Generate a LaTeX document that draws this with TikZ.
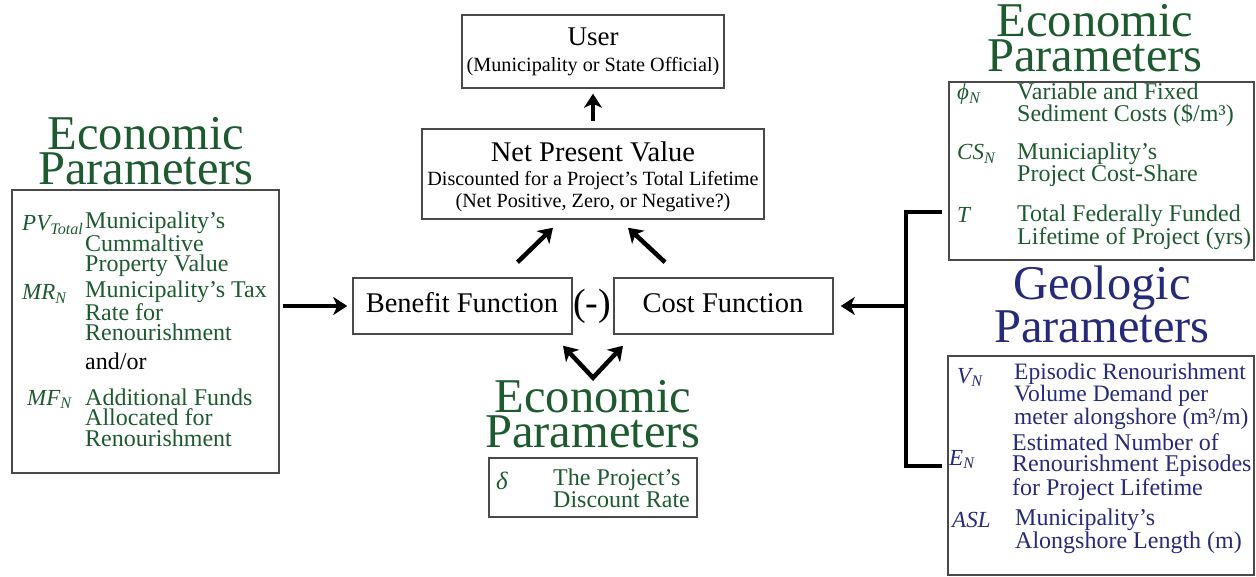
\documentclass[tikz,border=0pt]{standalone}
\usepackage{fontspec}
\setmainfont{Liberation Serif}
\usetikzlibrary{arrows.meta,calc}
\definecolor{egreen}{HTML}{1E5A30}
\definecolor{gblue}{HTML}{262A78}
\definecolor{boxgray}{HTML}{4A4A4A}
\begin{document}
\begin{tikzpicture}[x=1pt,y=-1pt,
  box/.style={draw=boxgray, line width=1.5pt, inner sep=0pt},
  title/.style={anchor=base, align=center, inner sep=0pt, font=\fontsize{48.5}{35}\selectfont},
  ent/.style={anchor=base west, align=left, inner sep=0pt, font=\fontsize{24}{20.5}\selectfont},
  sym/.style={anchor=base west, inner sep=0pt, font=\fontsize{23}{21}\selectfont\itshape},
  big/.style={anchor=base, inner sep=0pt, font=\fontsize{28.5}{30}\selectfont},
  small/.style={anchor=base, inner sep=0pt, font=\fontsize{20.2}{24}\selectfont},
  arr/.style={line width=4.5pt, -{Stealth[length=14pt,width=18pt,inset=4pt]}},
  darr/.style={line width=4.5pt, line join=miter, {Stealth[length=14pt,width=18pt,inset=4pt]}-{Stealth[length=14pt,width=18pt,inset=4pt]}},
  brk/.style={line width=4pt, line join=miter}
]
\useasboundingbox (0,0) rectangle (1256,577);

% ---- central column ----
\node[box, minimum width=262pt, minimum height=73pt] (user) at (593,51.5) {};
\node[big, font=\fontsize{27}{30}\selectfont] (usert) at (593,46) {User};
\node[small] (users) at (593,72) {(Municipality or State Official)};

\node[box, minimum width=342pt, minimum height=90pt] (npv) at (593,174) {};
\node[big] (npvt) at (593,162) {Net Present Value};
\node[small] (npv1) at (593,186) {Discounted for a Project’s Total Lifetime};
\node[small] (npv2) at (593,208) {(Net Positive, Zero, or Negative?)};

\node[box, minimum width=219pt, minimum height=56pt] (ben) at (462.5,306) {};
\node[big] (bent) at (462,313) {Benefit Function};
\node[box, minimum width=219pt, minimum height=56pt] (cost) at (723.5,306) {};
\node[big] (costt) at (723,313) {Cost Function};
\node[anchor=base, inner sep=0pt, font=\fontsize{38}{40}\selectfont] (minus) at (592,316) {(-)};

\node[title, text=egreen] (midtitle) at (593,447) {Economic\\Parameters};
\node[box, minimum width=208pt, minimum height=59pt] (dbox) at (593,487.5) {};
\node[sym, text=egreen, font=\fontsize{25}{21}\selectfont\itshape] (delta) at (496,489) {δ};
\node[ent, text=egreen, font=\fontsize{24}{22}\selectfont] (deltat) at (553,507) {The Project’s\\Discount Rate};

% ---- left column ----
\node[title, text=egreen] (ltitle) at (146,185) {Economic\\Parameters};
\node[box, minimum width=267pt, minimum height=283pt] (lbox) at (145.5,331.5) {};
\node[sym, text=egreen] (pv) at (22,231) {PV\textsubscript{Total}};
\node[ent, text=egreen] (pvt) at (85,272) {Municipality’s\\Cummaltive\\Property Value};
\node[sym, text=egreen] (mr) at (22,300) {MR\textsubscript{N}};
\node[ent, text=egreen] (mrt) at (85,341) {Municipality’s Tax\\Rate for\\Renourishment};
\node[ent] (andor) at (85,370) {and/or};
\node[sym, text=egreen] (mf) at (27,405) {MF\textsubscript{N}};
\node[ent, text=egreen] (mft) at (85,446) {Additional Funds\\Allocated for\\Renourishment};

% ---- right column ----
\node[title, text=egreen] (rtitle) at (1095,72) {Economic\\Parameters};
\node[box, minimum width=305pt, minimum height=178pt] (ebox) at (1101.5,171) {};
\node[sym, text=egreen] (phi) at (957,100) {ϕ\textsubscript{N}};
\node[ent, text=egreen, font=\fontsize{24}{22}\selectfont] (phit) at (1017,122) {Variable and Fixed\\Sediment Costs (\$/m³)};
\node[sym, text=egreen] (cs) at (957,160) {CS\textsubscript{N}};
\node[ent, text=egreen, font=\fontsize{24}{22}\selectfont] (cst) at (1017,182) {Municiaplity’s\\Project Cost-Share};
\node[sym, text=egreen] (tt) at (957,223) {T};
\node[ent, text=egreen, font=\fontsize{24}{22}\selectfont] (ttt) at (1017,245) {Total Federally Funded\\Lifetime of Project (yrs)};

\node[title, text=gblue, font=\fontsize{48.5}{41}\selectfont] (gtitle) at (1102,343) {Geologic\\Parameters};
\node[box, minimum width=306pt, minimum height=219pt] (gbox) at (1101,465.5) {};
\node[sym, text=gblue] (vn) at (957,383) {V\textsubscript{N}};
\node[ent, text=gblue, font=\fontsize{23.5}{20.5}\selectfont] (vnt) at (1014,424) {Episodic Renourishment\\Volume Demand per\\meter alongshore (m³/m)};
\node[sym, text=gblue] (en) at (949,465) {E\textsubscript{N}};
\node[ent, text=gblue, font=\fontsize{24}{21.5}\selectfont] (ent) at (1012,495) {Estimated Number of\\Renourishment Episodes\\for Project Lifetime};
\node[sym, text=gblue] (asl) at (952,527) {ASL};
\node[ent, text=gblue, font=\fontsize{24}{21}\selectfont] (aslt) at (1015,548) {Municipality’s\\Alongshore Length (m)};

% ---- connectors ----
\draw[arr] ([shift={(0,-7)}]npv.north) -- ([shift={(0,5)}]user.south);
\draw[arr] ([shift={(55,-15)}]ben.north) -- ([shift={(-40,8)}]npv.south);
\draw[arr] ([shift={(-58.5,-15)}]cost.north) -- ([shift={(35,8)}]npv.south);

\coordinate (mid) at ($(ben.south east)!0.5!(cost.south west)$);
\coordinate (vtx) at ([shift={(0,43)}]mid);
\draw[darr] ([shift={(-30,11)}]mid) -- (vtx) -- ([shift={(30,11)}]mid);

\draw[arr] ([xshift=3pt]lbox.east |- ben.west) -- ([xshift=-5pt]ben.west);

\coordinate (bx) at (906,306);
\coordinate (btop) at (bx |- 0,212);
\coordinate (bbot) at (bx |- 0,466);
\draw[brk] ([xshift=-6pt]ebox.west |- btop) -- (btop) -- (bbot) -- ([xshift=-5pt]gbox.west |- bbot);
\draw[arr] (bx |- cost.east) -- ([xshift=7pt]cost.east);
\end{tikzpicture}
\end{document}
